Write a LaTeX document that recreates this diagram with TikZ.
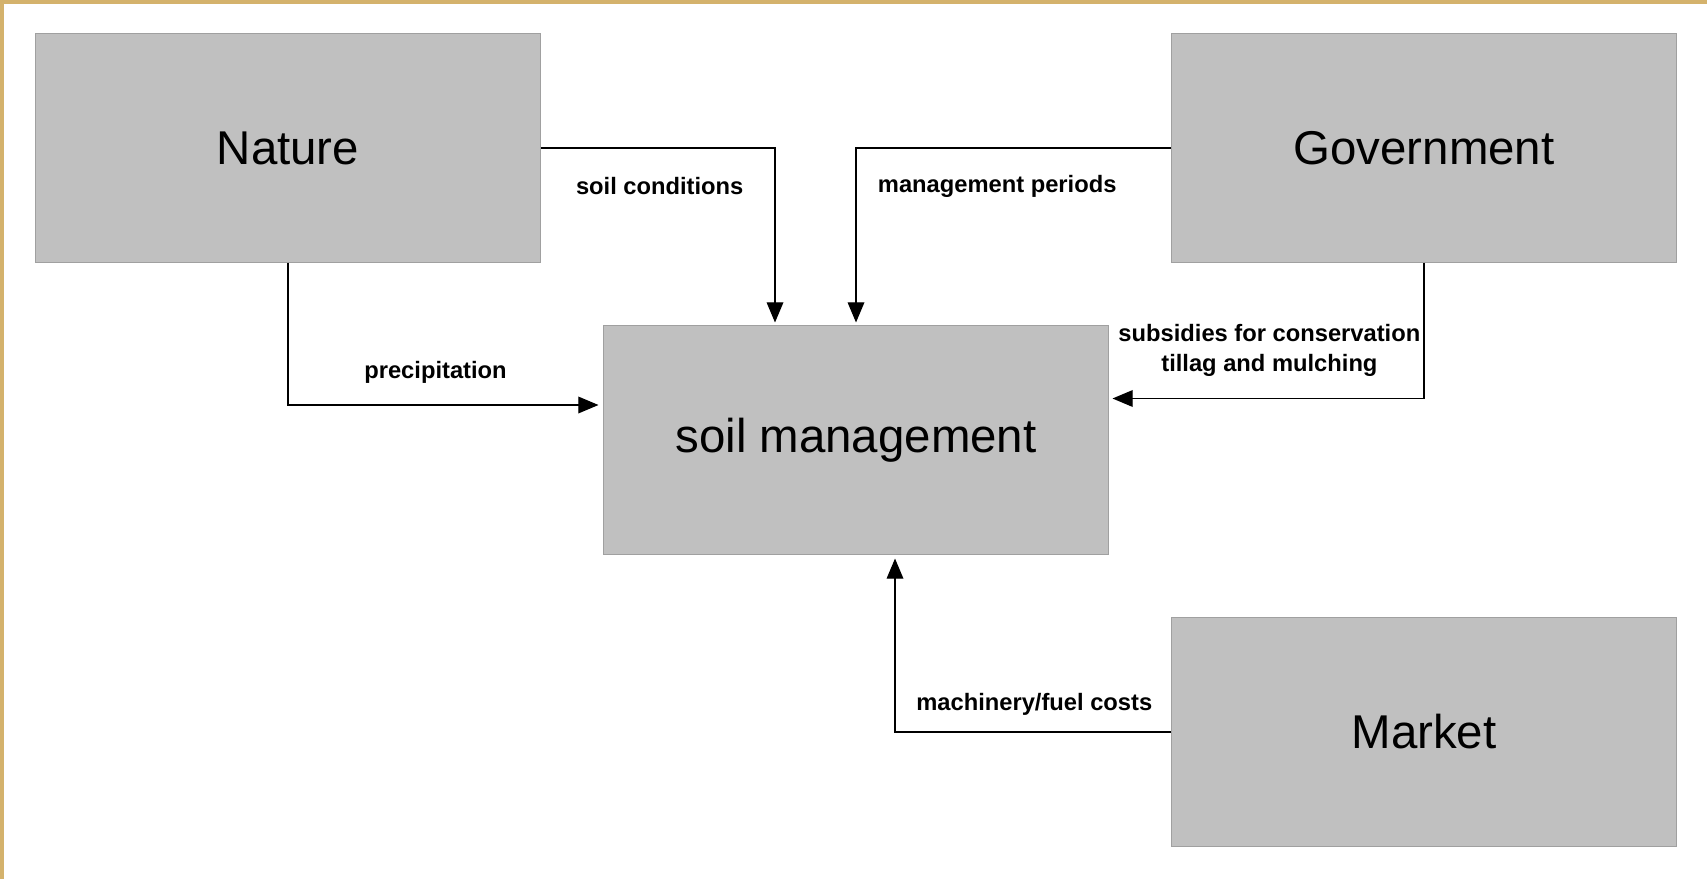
\documentclass[tikz,border=0pt]{standalone}
\usepackage{fontspec}
\setmainfont{Liberation Sans}
\usetikzlibrary{arrows.meta}

\definecolor{boxgray}{RGB}{192,192,192}
\definecolor{boxedge}{RGB}{160,160,160}
\definecolor{frame}{RGB}{212,178,108}

\tikzset{
  actor/.style={fill=boxgray,draw=boxedge,line width=0.6pt,minimum width=10.1cm,minimum height=4.57cm,font=\fontsize{27}{32}\selectfont},
  flow/.style={font=\fontsize{13.5}{17.3}\selectfont\bfseries,align=center,inner sep=0pt}
}

\begin{document}
\begin{tikzpicture}[x=0.02cm,y=-0.02cm,>={Triangle[length=11.5pt,width=9.5pt]},line width=0.7pt,shorten >=2pt]
  \useasboundingbox[fill=white] (0,0) rectangle (1707,879);
  % golden frame edges
  \fill[frame] (0,0) rectangle (3.5,879);
  \fill[frame] (0,0) rectangle (1707,3.5);

  \node[actor] (nature) at (288,148) {Nature};
  \node[actor] (gov)    at (1424,148) {Government};
  \node[actor] (soil)   at (856,440) {soil management};
  \node[actor] (market) at (1424,732) {Market};

  \coordinate (c1) at (775,326);
  \coordinate (c2) at (856,326);
  \coordinate (c3) at (602,405);
  \coordinate (c4) at (1109,398.5);
  \coordinate (c5) at (895,555);

  \draw[->] (nature.east) -| (c1);
  \draw[->] (gov.west) -| (c2);
  \draw[->] (nature.south) |- (c3);
  \draw[->] (gov.south) |- (c4);
  \draw[->] (market.west) -| (c5);

  \node[flow] (l1) at (659.7,186.2) {soil conditions};
  \node[flow] (l2) at (997.2,186.2) {management periods};
  \node[flow] (l3) at (435.5,372.3) {precipitation};
  \node[flow] (l4) at (1269.4,350.5) {subsidies for conservation\\tillag and mulching};
  \node[flow] (l5) at (1034.3,704.4) {machinery/fuel costs};
\end{tikzpicture}
\end{document}
